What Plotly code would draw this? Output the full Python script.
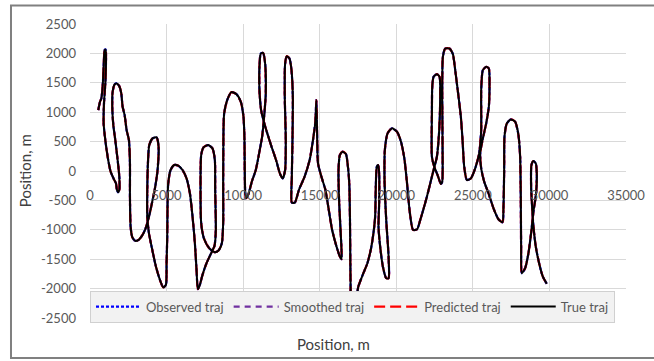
import plotly.graph_objects as go

# True trajectory (m)
true_x = [543, 652, 739, 826, 891, 957, 1022, 1043, 1000, 913, 891, 1000, 1152, 1348, 1565, 1696, 1761, 1826, 1913, 1913,
          1804, 1652, 1522, 1456, 1478, 1609, 1739, 1913, 2043, 2130, 2261, 2391, 2543, 2609, 2609, 2652, 2761, 2957, 3174, 3391,
          3609, 3826, 4043, 4261, 4413, 4478, 4348, 4087, 3870, 3783, 3739, 3739, 3848, 4043, 4304, 4565, 4783, 4957, 5000, 5043,
          5065, 5109, 5261, 5500, 5761, 6043, 6304, 6522, 6696, 6848, 6957, 7043, 7174, 7348, 7609, 7891, 8130, 8217, 8174, 8152,
          7996, 7717, 7413, 7261, 7217, 7261, 7435, 7783, 8152, 8391, 8609, 8696, 8696, 8717, 8761, 8957, 9240, 9565, 9848, 10022,
          10087, 10109, 10174, 10348, 10565, 10826, 11043, 11239, 11370, 11478, 11435, 11304, 11152, 11065, 11065, 11174, 11413, 11820, 12149, 12412,
          12588, 12741, 12785, 12719, 12741, 12851, 13026, 13158, 13246, 13224, 13180, 13180, 13377, 13640, 14013, 14342, 14561, 14715, 14781, 14825,
          14890, 15110, 15373, 15592, 15811, 16097, 16316, 16425, 16382, 16272, 16228, 16316, 16491, 16711, 16842, 16930, 16974, 16996, 17018, 17030,
          17250, 17437, 17522, 17851, 18114, 18355, 18509, 18619, 18663, 18728, 18816, 18882, 18882, 18838, 18947, 19123, 19342, 19496, 19496, 19342,
          19233, 19254, 19430, 19715, 20044, 20307, 20526, 20702, 20877, 21096, 21360, 21565, 22000, 22435, 22652, 22804, 22870, 22826, 22652, 22435,
          22348, 22326, 22326, 22478, 22696, 22913, 23000, 23022, 23000, 23043, 23196, 23478, 23696, 23848, 24065, 24217, 24326, 24435, 24609, 24870,
          25152, 25413, 25544, 25544, 25652, 25870, 26043, 26087, 26043, 25870, 25630, 25478, 25544, 25739, 26022, 26348, 26674, 26935, 27000, 27044,
          27065, 27217, 27478, 27761, 27978, 28087, 28130, 28152, 28196, 28413, 28630, 28804, 28957, 29130, 29174, 29109, 28957, 28826, 28804, 28870,
          28957, 29109, 29326, 29565, 29826]
true_y = [1036, 1177, 1234, 1432, 1772, 2055, 2066, 1828, 1489, 1149, 809, 526, 243, -11, -142, -209, -323, -362, -323, -96,
          187, 526, 781, 1064, 1347, 1472, 1489, 1443, 1319, 1092, 951, 696, 526, 130, -436, -945, -1126, -1189, -1172, -1104,
          -991, -804, -549, -266, 17, 413, 572, 555, 441, 130, -323, -775, -1058, -1313, -1624, -1851, -1981, -1936, -1568, -1115,
          -549, -209, 17, 102, 91, 17, -125, -379, -775, -1228, -1681, -2009, -1936, -1766, -1568, -1409, -1273, -1002, -323, 187,
          385, 441, 402, 272, -323, -889, -1143, -1313, -1381, -1353, -1228, -889, -153, 696, 979, 1206, 1341, 1307, 1177, 923,
          526, -40, -464, -391, -181, 17, 300, 583, 923, 1319, 1828, 2009, 1998, 1772, 1375, 1036, 781, 441, 187, -51,
          -125, 17, 526, 1262, 1828, 1953, 1913, 1715, 1262, 583, -96, -538, -538, -323, -96, 187, 526, 838, 1206, 696,
          130, -96, -323, -662, -1002, -1285, -1455, -1500, -1115, -549, 17, 272, 328, 289, 74, -209, -775, -1455, -2021, -2350,
          -2380, -2100, -1964, -1738, -1568, -1313, -1058, -775, -266, 74, 102, -40, -549, -945, -1285, -1624, -1823, -1823, -1455, -832,
          -153, 357, 640, 725, 668, 498, 215, -209, -691, -1002, -991, -832, -436, 17, 243, 696, 1262, 1602, 1647, 1602,
          1432, 979, 243, 74, -68, -221, -181, 413, 1262, 1941, 2083, 2083, 1987, 1715, 1262, 923, 526, 74, -153, -125,
          45, 300, 696, 1375, 1715, 1772, 1743, 1432, 1092, 809, 526, 300, 45, -181, -379, -634, -821, -872, -606, 17,
          583, 809, 877, 838, 611, 243, -436, -1285, -1738, -1653, -1398, -1058, -691, -379, -40, 130, 170, 102, -266, -606,
          -945, -1285, -1568, -1794, -1919]

# Observed, smoothed and predicted tracks lie on the true track at this scale
obs_x, obs_y = true_x, true_y
smooth_x, smooth_y = true_x, true_y
pred_x, pred_y = true_x, true_y

series_names = ["Observed traj", "Smoothed traj", "Predicted traj", "True traj"]
x_ticks = [0, 5000, 10000, 15000, 20000, 25000, 30000, 35000]
y_ticks = [-2500, -2000, -1500, -1000, -500, 0, 500, 1000, 1500, 2000, 2500]

FONT = "Lato"
fig = go.Figure()
fig.add_trace(go.Scatter(x=obs_x, y=obs_y, mode="lines", name=series_names[0],
                         line=dict(color="#0000ff", width=2.2, dash="3px,2px", shape="spline", smoothing=0.6)))
fig.add_trace(go.Scatter(x=smooth_x, y=smooth_y, mode="lines", name=series_names[1],
                         line=dict(color="#7030a0", width=2.2, dash="6px,5px", shape="spline", smoothing=0.6)))
fig.add_trace(go.Scatter(x=pred_x, y=pred_y, mode="lines", name=series_names[2],
                         line=dict(color="#ff0000", width=2.2, dash="11px,5px", shape="spline", smoothing=0.6)))
fig.add_trace(go.Scatter(x=true_x, y=true_y, mode="lines", name=series_names[3],
                         line=dict(color="#000000", width=2, shape="spline", smoothing=0.6)))

fig.update_layout(
    width=654, height=361,
    margin=dict(l=90, r=28, t=24, b=43, autoexpand=False),
    paper_bgcolor="white", plot_bgcolor="white",
    font=dict(family=FONT, size=13, color="#595959"),
    showlegend=True,
    legend=dict(orientation="h", x=0, xanchor="left", y=0.093, yanchor="top",
                bgcolor="#f2f2f2", bordercolor="#d0d0d0", borderwidth=1,
                font=dict(family=FONT, size=13, color="#595959"),
                itemwidth=45, tracegroupgap=0),
    xaxis=dict(range=[0, 35000], tickvals=x_ticks, ticktext=[str(v) for v in x_ticks],
               anchor="free", position=0.5, showgrid=True, gridcolor="#d9d9d9", gridwidth=1,
               zeroline=False, showline=False, ticks="", ticklabelstandoff=15,
               tickfont=dict(family=FONT, size=13, color="#595959"), automargin=False),
    yaxis=dict(range=[-2500, 2500], tickvals=y_ticks, ticktext=[str(v) for v in y_ticks],
               showgrid=True, gridcolor="#d9d9d9", gridwidth=1, zeroline=False, showline=False,
               ticks="", ticklabelstandoff=13,
               tickfont=dict(family=FONT, size=13, color="#595959"), automargin=False),
    annotations=[
        dict(text="Position, m", xref="paper", yref="paper", x=0.455, y=-0.088,
             xanchor="center", yanchor="middle", showarrow=False,
             font=dict(family=FONT, size=15, color="#404040")),
        dict(text="Position, m", xref="paper", yref="paper", x=-0.121, y=0.5, textangle=-90,
             xanchor="center", yanchor="middle", showarrow=False,
             font=dict(family=FONT, size=15, color="#404040")),
    ],
    shapes=[dict(type="rect", xref="paper", yref="paper", x0=-0.1474, x1=1.07, y0=-0.136, y1=1.063,
                 line=dict(color="#808080", width=2), fillcolor="rgba(0,0,0,0)", layer="below")],
)

fig.write_html("out.html", config={"displayModeBar": False},
               post_script="document.body.style.margin='0';")
